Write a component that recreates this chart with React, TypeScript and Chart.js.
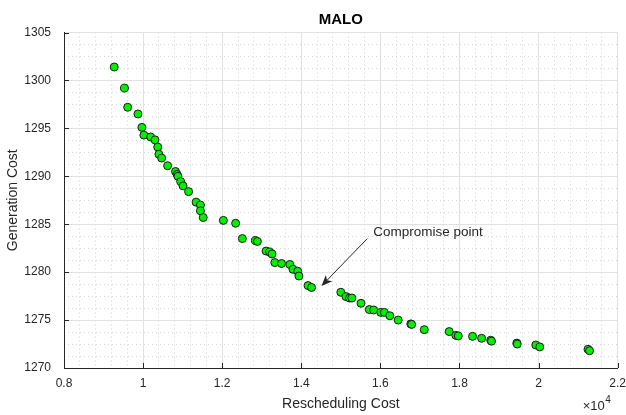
import React, { useEffect, useRef } from 'react';
import { Chart, registerables } from 'chart.js';

Chart.register(...registerables);

// ---------- data ----------
const reschedulingCost = [
  9270, 9530, 9610, 9870, 9970, 10020, 10190, 10300, 10370, 10400,
  10470, 10620, 10820, 10860, 10880, 10950, 11010, 11150, 11340, 11450,
  11450, 11520, 12030, 12340, 12510, 12840, 12890, 13110, 13200, 13260,
  13330, 13500, 13710, 13790, 13910, 13940, 14170, 14260, 15000, 15130,
  15220, 15280, 15510, 15720, 15830, 16010, 16100, 16240, 16450, 16770,
  16790, 17110, 17740, 17910, 17970, 18330, 18560, 18790, 18810, 19450,
  19460, 19930, 20030, 21250, 21290,
];
const generationCost = [
  1301.4, 1299.2, 1297.2, 1296.5, 1295.1, 1294.3, 1294.1, 1293.8, 1293.05, 1292.3,
  1291.9, 1291.1, 1290.5, 1290.2, 1290.0, 1289.45, 1289.0, 1288.4, 1287.3, 1287.0,
  1286.4, 1285.7, 1285.4, 1285.1, 1283.5, 1283.3, 1283.2, 1282.2, 1282.1, 1281.9,
  1281.0, 1280.9, 1280.8, 1280.3, 1280.1, 1279.6, 1278.6, 1278.4, 1277.9, 1277.45,
  1277.3, 1277.3, 1276.75, 1276.1, 1276.05, 1275.8, 1275.8, 1275.45, 1275.0, 1274.6,
  1274.55, 1274.0, 1273.8, 1273.4, 1273.35, 1273.3, 1273.1, 1272.9, 1272.8, 1272.6,
  1272.5, 1272.4, 1272.2, 1271.95, 1271.8,
];

const xRange = [8000, 22000];
const yRange = [1270, 1305];
const xMajorStep = 2000;
const xMinorStep = 400;
const yMajorStep = 5;
const yMinorStep = 1.25;

const titleText = 'MALO';
const xLabel = 'Rescheduling Cost';
const yLabel = 'Generation Cost';
const annotationText = 'Compromise point';
const annotationAnchor = [15820, 1284.2];
const arrowTail = [15670, 1283.5];
const arrowTip = [14510, 1278.55];
const exponentBase = '×10';
const exponentPower = '4';

// ---------- styles ----------
const FONT = "'Liberation Sans', Arial, Helvetica, sans-serif";
const AXIS_COLOR = '#262626';
const MAJOR_GRID = '#e1e1e1';
const MINOR_GRID = '#d2d2d2';
const CLEAR = 'rgba(0,0,0,0)';

const decorPlugin = {
  id: 'decor',
  beforeDatasetsDraw(chart: any) {
    const { ctx, chartArea, scales } = chart;
    const x = scales.x;
    const y = scales.y;
    ctx.save();
    ctx.strokeStyle = AXIS_COLOR;
    ctx.lineWidth = 1;
    ctx.beginPath();
    x.ticks.forEach((t: any) => {
      const px = Math.round(x.getPixelForValue(t.value)) + 0.5;
      ctx.moveTo(px, chartArea.bottom);
      ctx.lineTo(px, chartArea.bottom - 5);
    });
    y.ticks.forEach((t: any) => {
      const py = Math.round(y.getPixelForValue(t.value)) + 0.5;
      ctx.moveTo(chartArea.left, py);
      ctx.lineTo(chartArea.left + 5, py);
    });
    ctx.stroke();
    ctx.restore();
  },
  afterDatasetsDraw(chart: any) {
    const { ctx, scales, chartArea } = chart;
    const x = scales.x;
    const y = scales.y;
    ctx.save();
    // arrow
    const tx = x.getPixelForValue(arrowTail[0]);
    const ty = y.getPixelForValue(arrowTail[1]);
    const hx = x.getPixelForValue(arrowTip[0]);
    const hy = y.getPixelForValue(arrowTip[1]);
    const ang = Math.atan2(hy - ty, hx - tx);
    const ux = Math.cos(ang), uy = Math.sin(ang);
    const nx = -uy, ny = ux;
    const L = 11, W = 4.5, notch = 3;
    ctx.strokeStyle = AXIS_COLOR;
    ctx.fillStyle = AXIS_COLOR;
    ctx.lineWidth = 1;
    ctx.beginPath();
    ctx.moveTo(tx, ty);
    ctx.lineTo(hx - (L - notch) * ux, hy - (L - notch) * uy);
    ctx.stroke();
    ctx.beginPath();
    ctx.moveTo(hx, hy);
    ctx.lineTo(hx - L * ux + W * nx, hy - L * uy + W * ny);
    ctx.lineTo(hx - (L - notch) * ux, hy - (L - notch) * uy);
    ctx.lineTo(hx - L * ux - W * nx, hy - L * uy - W * ny);
    ctx.closePath();
    ctx.fill();
    // text
    ctx.font = `13.5px ${FONT}`;
    ctx.textAlign = 'left';
    ctx.textBaseline = 'middle';
    ctx.fillStyle = AXIS_COLOR;
    ctx.fillText(annotationText, x.getPixelForValue(annotationAnchor[0]), y.getPixelForValue(annotationAnchor[1]));
    // exponent
    const ex = chartArea.right - 35;
    ctx.textBaseline = 'alphabetic';
    ctx.font = `13px ${FONT}`;
    ctx.fillText(exponentBase, ex, 410);
    const w = ctx.measureText(exponentBase).width;
    ctx.font = `10px ${FONT}`;
    ctx.fillText(exponentPower, ex + w + 0.5, 403);
    ctx.restore();
  },
};

export default function App() {
  const canvasRef = useRef<HTMLCanvasElement | null>(null);

  useEffect(() => {
    const canvas = canvasRef.current;
    if (!canvas) return;
    const points = reschedulingCost.map((v, i) => ({ x: v, y: generationCost[i] }));
    const chart = new Chart(canvas, {
      type: 'scatter',
      data: {
        datasets: [
          {
            data: points,
            pointRadius: 4,
            pointBorderWidth: 1,
            pointBackgroundColor: '#00f000',
            pointBorderColor: '#1a1a1a',
            showLine: false,
          },
        ],
      },
      options: {
        responsive: false,
        animation: false,
        layout: { padding: { left: 0, right: 0, top: 0, bottom: 0 } },
        plugins: {
          legend: { display: false },
          tooltip: { enabled: false },
          title: {
            display: true,
            fullSize: false,
            text: titleText,
            color: '#000000',
            font: { family: FONT, size: 15, weight: 'bold' },
            padding: { top: 11, bottom: 3.5 },
          },
        },
        scales: {
          x: {
            type: 'linear',
            position: 'bottom',
            min: xRange[0],
            max: xRange[1],
            ticks: {
              stepSize: xMajorStep,
              color: AXIS_COLOR,
              font: { family: FONT, size: 12 },
              padding: 0,
              maxRotation: 0,
              callback: (v: any) => String(Math.round(Number(v) / 1000) / 10),
            },
            grid: { color: MAJOR_GRID, drawTicks: true, tickLength: 8, tickColor: CLEAR },
            border: { display: true, color: AXIS_COLOR, width: 1 },
            title: {
              display: true,
              text: xLabel,
              color: AXIS_COLOR,
              font: { family: FONT, size: 14 },
              padding: { top: 0, bottom: 2 },
            },
            afterFit: (s: any) => { s.height = 47; },
          },
          x2: {
            type: 'linear',
            position: 'bottom',
            min: xRange[0],
            max: xRange[1],
            ticks: { display: false, stepSize: xMinorStep, padding: 0 },
            grid: {
              drawTicks: false,
              color: (c: any) => (c.tick && Math.abs(c.tick.value % xMajorStep) < 1e-6 ? CLEAR : MINOR_GRID),
            },
            border: { display: false, dash: [1, 3] },
            afterFit: (s: any) => { s.height = 0; },
          },
          y: {
            type: 'linear',
            position: 'left',
            min: yRange[0],
            max: yRange[1],
            ticks: {
              stepSize: yMajorStep,
              color: AXIS_COLOR,
              font: { family: FONT, size: 12 },
              padding: 13,
              callback: (v: any) => String(v),
            },
            grid: { color: MAJOR_GRID, drawTicks: false },
            border: { display: true, color: AXIS_COLOR, width: 1 },
            title: {
              display: true,
              text: yLabel,
              color: AXIS_COLOR,
              font: { family: FONT, size: 14 },
              padding: { top: 5, bottom: 0 },
            },
            afterFit: (s: any) => { s.width = 64; },
          },
          y2: {
            type: 'linear',
            position: 'left',
            min: yRange[0],
            max: yRange[1],
            ticks: { display: false, stepSize: yMinorStep },
            grid: {
              drawTicks: false,
              color: (c: any) => (c.tick && Math.abs(c.tick.value % yMajorStep) < 1e-6 ? CLEAR : MINOR_GRID),
            },
            border: { display: false, dash: [1, 3] },
            afterFit: (s: any) => { s.width = 0; },
          },
        },
      } as any,
      plugins: [decorPlugin],
    });
    return () => chart.destroy();
  }, []);

  return (
    <div style={{ position: 'absolute', left: 0, top: 0, width: 626, height: 415, background: '#ffffff' }}>
      <canvas ref={canvasRef} width={626} height={415} style={{ display: 'block', width: 626, height: 415 }} />
    </div>
  );
}
